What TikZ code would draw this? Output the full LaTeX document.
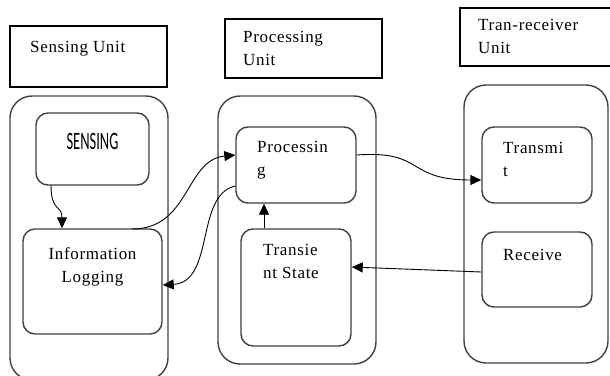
\documentclass[tikz,border=0pt]{standalone}
\usepackage{fontspec}
\setmainfont[LetterSpace=4]{Liberation Serif}
\newfontfamily\capfont{Carlito}
\usetikzlibrary{arrows.meta}
\begin{document}
\begin{tikzpicture}[x=1pt,y=-1pt,
  lbl/.style={draw=black,line width=1.2pt,rectangle},
  unitbox/.style={draw=black!75,line width=1.4pt,rounded corners=22pt},
  itembox/.style={draw=black!75,line width=1.4pt,rounded corners=12pt},
  txt/.style={font=\fontsize{17}{23}\selectfont,anchor=north west,align=left,inner sep=0pt},
  conn/.style={line width=0.9pt,-{Triangle[length=11pt,width=10pt]}}]
\useasboundingbox (0,0) rectangle (610,375);
% unit titles
\draw[lbl] (10,26) rectangle (167,87);
\node[txt] at (30,41.5) {Sensing Unit};
\draw[lbl] (225,19) rectangle (382,78);
\node[txt] at (243,31.5) {Processing\\Unit};
\draw[lbl] (460,8) rectangle (612,66);
\node[txt] at (478,19.5) {Tran-receiver\\Unit};
% unit outlines
\draw[unitbox] (10,96) rectangle (168,380);
\draw[unitbox] (218,96) rectangle (376,364);
\draw[unitbox] (464,85) rectangle (608,363);
% inner blocks
\node[itembox,minimum width=113pt,minimum height=72pt] (sens) at (92.5,149) {};
\node[font=\capfont\fontsize{25}{27}\selectfont,xscale=0.58,inner sep=0pt] at (92.5,141.5) {SENSING};
\node[itembox,minimum width=139pt,minimum height=105pt] (log) at (92.5,281.5) {};
\node[txt,anchor=north,align=center] at (92.5,247.5) {Information\\Logging};
\node[itembox,minimum width=120pt,minimum height=76pt] (proc) at (296,165) {};
\node[txt] at (257,141.5) {Processin\\g};
\node[itembox,minimum width=110pt,minimum height=117pt] (trst) at (296,287.5) {};
\node[txt] at (263,244.5) {Transie\\nt State};
\node[itembox,minimum width=110pt,minimum height=76pt] (tx) at (537,165) {};
\node[txt] at (503,142.5) {Transmi\\t};
\node[itembox,minimum width=110pt,minimum height=75pt] (rx) at (537,269.5) {};
\node[txt] at (503,249.5) {Receive};
% connector end points
\coordinate (s1) at (51,185);
\coordinate (l1) at (132,229);
\coordinate (c62) at (62,0);
\coordinate (c264) at (264,0);
\coordinate (h155) at (0,155);
\coordinate (h186) at (0,186);
\coordinate (h285) at (0,285);
\coordinate (h180) at (0,180);
\coordinate (h272) at (0,272);
\coordinate (h267) at (0,267);
% connectors
\draw[conn] (s1) .. controls (51,212) and (62,205) .. (log.north -| c62);
\draw[conn] (l1) .. controls (190,229) and (185,160) .. (proc.west |- h155);
\draw[conn] (proc.west |- h186) .. controls (195,195) and (215,282) .. (log.east |- h285);
\draw[conn] (trst.north -| c264) -- (proc.south -| c264);
\draw[conn] (proc.east |- h155) .. controls (425,150) and (405,180) .. (tx.west |- h180);
\draw[conn] (rx.west |- h272) -- (trst.east |- h267);
\end{tikzpicture}
\end{document}
